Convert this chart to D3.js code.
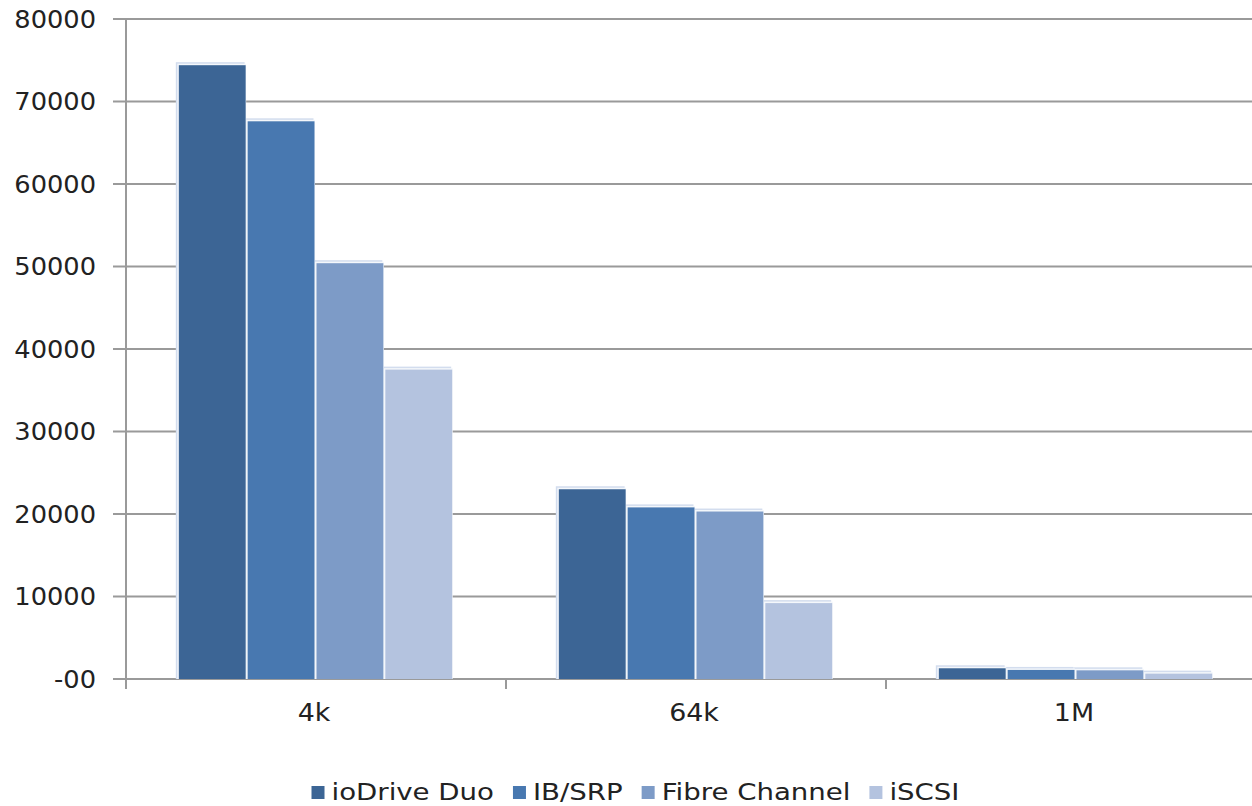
<!DOCTYPE html>
<html>
<head>
<meta charset="utf-8">
<script src="https://cdn.jsdelivr.net/npm/d3@7/dist/d3.min.js"></script>
<style>
  html, body { margin: 0; padding: 0; background: #fff; }
  svg { display: block; }
  text { font-family: "DejaVu Sans", Verdana, sans-serif; fill: #222; }
</style>
</head>
<body>
<svg id="chart" width="1252" height="806"></svg>
<script>
// Throughput by block size (IOPS)
const categories = ["4k", "64k", "1M"];
const seriesNames = ["ioDrive Duo", "IB/SRP", "Fibre Channel", "iSCSI"];
const ioDriveDuo   = [74400, 23000, 1300];
const ibSrp        = [67600, 20800, 1100];
const fibreChannel = [50400, 20300, 1050];
const iscsi        = [37500, 9200, 650];
const yTicks = [0, 10000, 20000, 30000, 40000, 50000, 60000, 70000, 80000];
const yTickLabels = ["-00", "10000", "20000", "30000", "40000", "50000", "60000", "70000", "80000"];
const colors = ["#3c6595", "#4878b0", "#7d9bc7", "#b4c3df"];

const seriesValues = [ioDriveDuo, ibSrp, fibreChannel, iscsi];

const svg = d3.select("#chart");
const margin = { left: 126, top: 19, bottom: 679 };
const plotRight = 1266;
const stretch = 1.12;

const x = d3.scaleBand().domain(categories).range([margin.left, plotRight]).paddingInner(0).paddingOuter(0);
const xSeries = d3.scaleBand().domain(seriesNames).range([0, x.bandwidth()]).paddingOuter(0.76).paddingInner(0);
const y = d3.scaleLinear().domain([0, 80000]).range([margin.bottom, margin.top]);

// Horizontal grid lines with tick stubs left of the axis
svg.append("g").selectAll("line").data(yTicks).join("line")
  .attr("x1", margin.left - 13).attr("x2", 1252)
  .attr("y1", d => y(d)).attr("y2", d => y(d))
  .attr("stroke", "#9a9a9a").attr("stroke-width", 2);

// Category tick marks under the x axis
svg.append("g").selectAll("line").data(categories.slice(1)).join("line")
  .attr("x1", d => x(d)).attr("x2", d => x(d))
  .attr("y1", margin.bottom).attr("y2", margin.bottom + 10)
  .attr("stroke", "#9a9a9a").attr("stroke-width", 2);

// Y axis line
svg.append("line")
  .attr("x1", margin.left).attr("x2", margin.left)
  .attr("y1", margin.top).attr("y2", margin.bottom + 10)
  .attr("stroke", "#9a9a9a").attr("stroke-width", 2);

// Bars
const barData = [];
categories.forEach((c, ci) => {
  seriesNames.forEach((s, si) => {
    barData.push({ cat: c, series: s, si, value: seriesValues[si][ci] });
  });
});

const bars = svg.append("g");
const bx = d => x(d.cat) + xSeries(d.series);
const bw = xSeries.bandwidth();

// pale halo behind each bar (top-left offset)
bars.selectAll("rect.halo").data(barData).join("rect")
  .attr("class", "halo")
  .attr("x", d => bx(d) - 2.5)
  .attr("y", d => y(d.value) - 3)
  .attr("width", bw)
  .attr("height", d => margin.bottom - y(d.value) + 3)
  .attr("fill", "#d3ddee");
bars.selectAll("rect.gap").data(barData).join("rect")
  .attr("class", "gap")
  .attr("x", d => bx(d) - 1)
  .attr("y", d => y(d.value) - 1.5)
  .attr("width", bw)
  .attr("height", d => margin.bottom - y(d.value) + 1.5)
  .attr("fill", "#f4f7fb");
bars.selectAll("rect.bar").data(barData).join("rect")
  .attr("class", "bar")
  .attr("x", d => bx(d) + 0.5)
  .attr("y", d => y(d.value))
  .attr("width", bw - 2)
  .attr("height", d => margin.bottom - y(d.value))
  .attr("fill", d => colors[d.si]);

// Y tick labels (slightly widened type)
svg.append("g").selectAll("text").data(yTicks).join("text")
  .attr("transform", d => `translate(96,${y(d)}) scale(1.07,1)`)
  .attr("dy", "0.36em")
  .attr("text-anchor", "end")
  .attr("font-size", 24)
  .text((d, i) => yTickLabels[i]);

// X category labels
svg.append("g").selectAll("text").data(categories).join("text")
  .attr("transform", d => `translate(${x(d) + x.bandwidth() / 2 - 2},721) scale(${stretch},1)`)
  .attr("text-anchor", "middle")
  .attr("font-size", 24)
  .text(d => d);

// Legend
const legendStretch = 1.2;
const legend = svg.append("g");
const items = legend.selectAll("g").data(seriesNames).join("g");
items.append("rect")
  .attr("width", 13).attr("height", 13)
  .attr("y", -14)
  .attr("fill", (d, i) => colors[i]);
items.append("text")
  .attr("transform", `translate(20,0) scale(${legendStretch},1)`)
  .attr("font-size", 23)
  .text(d => d);
let cx = 0;
const offsets = [];
items.each(function () {
  offsets.push(cx);
  const w = d3.select(this).select("text").node().getComputedTextLength() * legendStretch;
  cx += 20 + w + 19;
});
const total = cx - 19;
const startX = 635.5 - total / 2;
items.attr("transform", (d, i) => `translate(${startX + offsets[i]},800)`);
</script>
</body>
</html>
